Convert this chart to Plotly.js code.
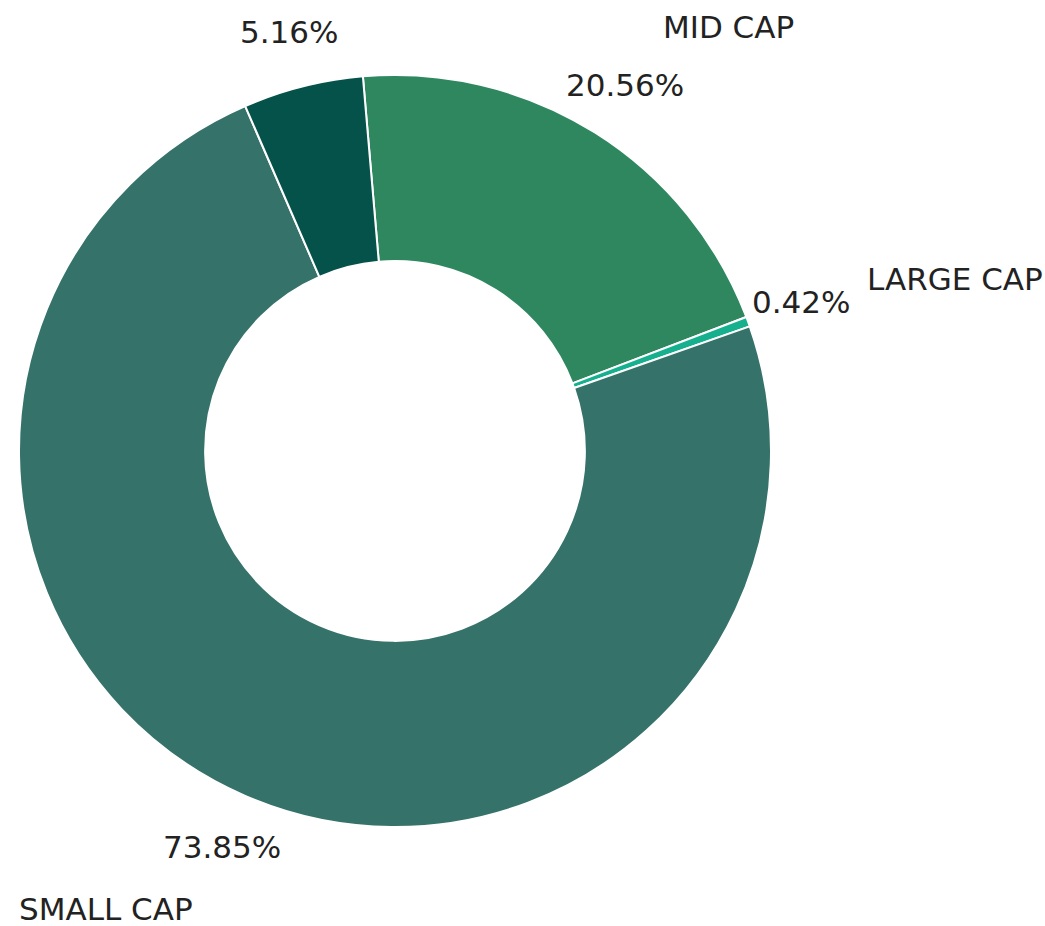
<!DOCTYPE html>
<html>
<head>
<meta charset="utf-8">
<script src="https://cdn.plot.ly/plotly-3.0.1.min.js"></script>
<style>
  html, body { margin: 0; padding: 0; background: #fff; }
  #chart { width: 1045px; height: 926px; }
</style>
</head>
<body>
<div id="chart"></div>
<script>
// slices in clockwise order, starting just left of 12 o'clock
const labels = ['MID CAP', 'LARGE CAP', 'SMALL CAP', '']
const shares = [20.56, 0.42, 73.85, 5.16]
const colors = ['#2e875f', '#17b08f', '#35736a', '#04524a']

const W = 1045, H = 926
// donut geometry in pixels
const cx = 395, cy = 451, r = 376
const startAngle = -4.9
const pctDistance = 1.15
const labelDistance = 1.33

const total = shares.reduce((a, b) => a + b, 0)

// positions of the outside texts, matplotlib style
const annotations = []
let angle = startAngle
shares.forEach((v, i) => {
  const span = v / total * 360
  const mid = (angle + span / 2) * Math.PI / 180
  angle += span
  const sx = Math.sin(mid), cyv = Math.cos(mid)

  annotations.push({
    x: (cx + pctDistance * r * sx) / W,
    y: 1 - (cy - pctDistance * r * cyv) / H,
    xref: 'paper', yref: 'paper',
    text: v.toFixed(2) + '%',
    showarrow: false,
    xanchor: 'center', yanchor: 'middle'
  })
  if (labels[i]) {
    annotations.push({
      x: (cx + labelDistance * r * sx) / W,
      y: 1 - (cy - labelDistance * r * cyv) / H,
      xref: 'paper', yref: 'paper',
      text: labels[i],
      showarrow: false,
      xanchor: sx > 0 ? 'left' : 'right', yanchor: 'middle'
    })
  }
})

const trace = {
  type: 'pie',
  labels: labels.map((l, i) => l || 'OTHER'),
  values: shares,
  hole: 0.505,
  sort: false,
  direction: 'clockwise',
  rotation: startAngle,
  textinfo: 'none',
  hoverinfo: 'label+percent',
  marker: { colors: colors, line: { color: '#ffffff', width: 2 } },
  domain: {
    x: [(cx - r) / W, (cx + r) / W],
    y: [(H - cy - r) / H, (H - cy + r) / H]
  }
}

const layout = {
  width: W,
  height: H,
  showlegend: false,
  margin: { t: 0, b: 0, l: 0, r: 0 },
  paper_bgcolor: '#ffffff',
  font: { family: 'DejaVu Sans', size: 31, color: '#222222' },
  annotations: annotations
}

Plotly.newPlot('chart', [trace], layout, { displayModeBar: false })
</script>
</body>
</html>
